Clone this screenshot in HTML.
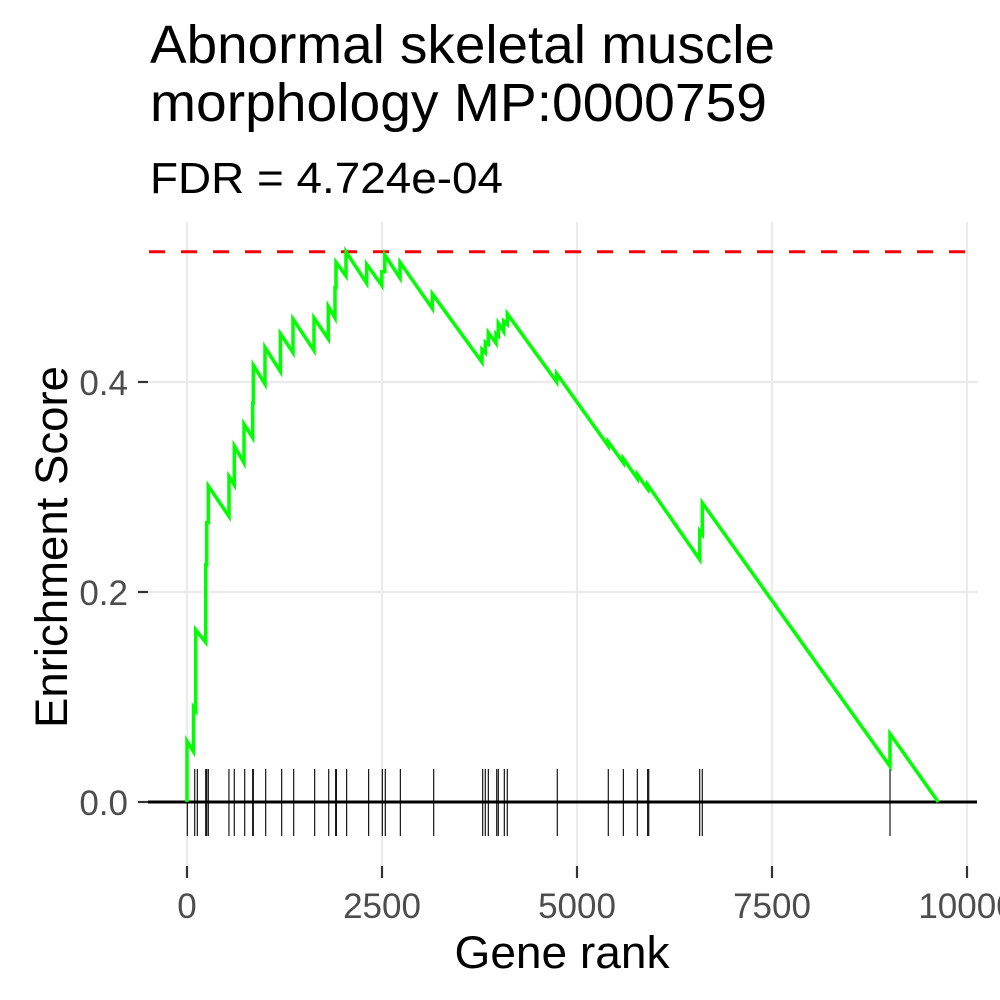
<!DOCTYPE html>
<html><head><meta charset="utf-8"><style>
body{margin:0;background:#fff;}
svg{display:block;font-family:"Liberation Sans",Arial,sans-serif;}
</style></head><body>
<svg id="chart" width="1000" height="1000" viewBox="0 0 1000 1000" xmlns="http://www.w3.org/2000/svg">
<rect width="1000" height="1000" fill="#fff"/>
<text x="150" y="63" font-size="54" fill="#000" textLength="625" lengthAdjust="spacingAndGlyphs">Abnormal skeletal muscle</text>
<text x="150" y="121" font-size="54" fill="#000" textLength="617" lengthAdjust="spacingAndGlyphs">morphology MP:0000759</text>
<text x="150" y="193" font-size="44" fill="#000" textLength="353" lengthAdjust="spacingAndGlyphs">FDR = 4.724e-04</text>
<g id="grid"></g>
<g id="ticks"></g>
<g id="rug"></g>
<g id="marks"></g>
<text x="562" y="968" font-size="45" text-anchor="middle" fill="#000" textLength="215" lengthAdjust="spacingAndGlyphs">Gene rank</text>
<text transform="translate(67,547) rotate(-90)" font-size="45" text-anchor="middle" fill="#000" textLength="362" lengthAdjust="spacingAndGlyphs">Enrichment Score</text>
</svg>
<script>
const xTicks=[0,2500,5000,7500,10000];
const xTickLabels=["0","2500","5000","7500","10000"];
const yTicks=[0,0.2,0.4];
const yTickLabels=["0.0","0.2","0.4"];
const maxES=0.524;
const hitRanks=[4,99,132,240,253,273,538,606,740,842,850,1009,1214,1368,1637,1817,1906,1915,2047,2329,2504,2542,2735,3163,3791,3824,3863,3971,3991,4068,4106,4747,5401,5594,5773,5906,5920,6573,6606,9013];
const curveRanks=[0,0,83,83,112,112,240,240,253,253,273,273,538,538,606,606,731,731,842,842,850,850,1000,1000,1197,1197,1359,1359,1628,1628,1811,1811,1897,1897,1910,1910,2038,2038,2304,2304,2497,2497,2536,2536,2731,2731,3145,3145,3782,3782,3824,3824,3863,3863,3962,3962,3991,3991,4060,4060,4106,4106,4740,4740,5401,5401,5594,5594,5773,5773,5906,5906,6573,6573,6606,6606,9013,9013,9632];
const curveES=[0,0.058,0.048,0.090,0.087,0.164,0.152,0.226,0.226,0.266,0.266,0.301,0.272,0.310,0.302,0.339,0.323,0.360,0.347,0.380,0.380,0.416,0.398,0.433,0.410,0.446,0.428,0.460,0.430,0.461,0.441,0.472,0.461,0.490,0.490,0.514,0.501,0.524,0.494,0.512,0.492,0.505,0.505,0.521,0.499,0.514,0.470,0.484,0.419,0.431,0.428,0.438,0.436,0.447,0.437,0.446,0.444,0.456,0.448,0.458,0.455,0.465,0.400,0.408,0.339,0.343,0.323,0.327,0.308,0.312,0.298,0.302,0.231,0.258,0.255,0.285,0.034,0.065,0];
const NS="http://www.w3.org/2000/svg";
const X=v=>187+v*0.078;
const Y=v=>802-v*1050;
function mk(parent,tag,attrs){const e=document.createElementNS(NS,tag);for(const k in attrs)e.setAttribute(k,attrs[k]);document.getElementById(parent).appendChild(e);return e;}
const L=148,R=978,T=222,B=866;
xTicks.forEach((t,i)=>{
  const g=mk('grid','line',{x1:X(t),x2:X(t),y1:T,y2:B,stroke:'#ebebeb','stroke-width':2.2});
  
  
  const tk=mk('ticks','line',{x1:X(t),x2:X(t),y1:B,y2:878,stroke:'#333','stroke-width':2.2});
  
  
  const tx=mk('ticks','text',{x:X(t),y:918,'font-size':35,'text-anchor':'middle',fill:'#4d4d4d'});
  tx.textContent=xTickLabels[i];
  
  
});
yTicks.forEach((t,i)=>{
  if(t>0){const g=mk('grid','line',{x1:L,x2:R,y1:Y(t),y2:Y(t),stroke:'#ebebeb','stroke-width':2.2});
  
  }
  const tk=mk('ticks','line',{x1:138,x2:L,y1:Y(t),y2:Y(t),stroke:'#333','stroke-width':2.2});
  
  
  const tx=mk('ticks','text',{x:128,y:Y(t)+13,'font-size':35,'text-anchor':'end',fill:'#4d4d4d'});
  tx.textContent=yTickLabels[i];
  
  
});
hitRanks.forEach(r=>{
  const l=mk('rug','line',{x1:X(r),x2:X(r),y1:769,y2:836,stroke:'#000','stroke-width':1.1});
  
  
});
const base=mk('marks','line',{x1:L,x2:977,y1:Y(0),y2:Y(0),stroke:'#000','stroke-width':3});


const dash=mk('marks','line',{x1:149,x2:R,y1:Y(maxES),y2:Y(maxES),stroke:'#ff0000','stroke-width':3,'stroke-dasharray':'16 16'});


const pts=curveRanks.map((r,i)=>X(r).toFixed(1)+','+Y(curveES[i]).toFixed(1)).join(' ');
const pl=mk('marks','polyline',{points:pts,fill:'none',stroke:'#00ff00','stroke-width':3.5,'stroke-linejoin':'miter'});


</script>
</body></html>
